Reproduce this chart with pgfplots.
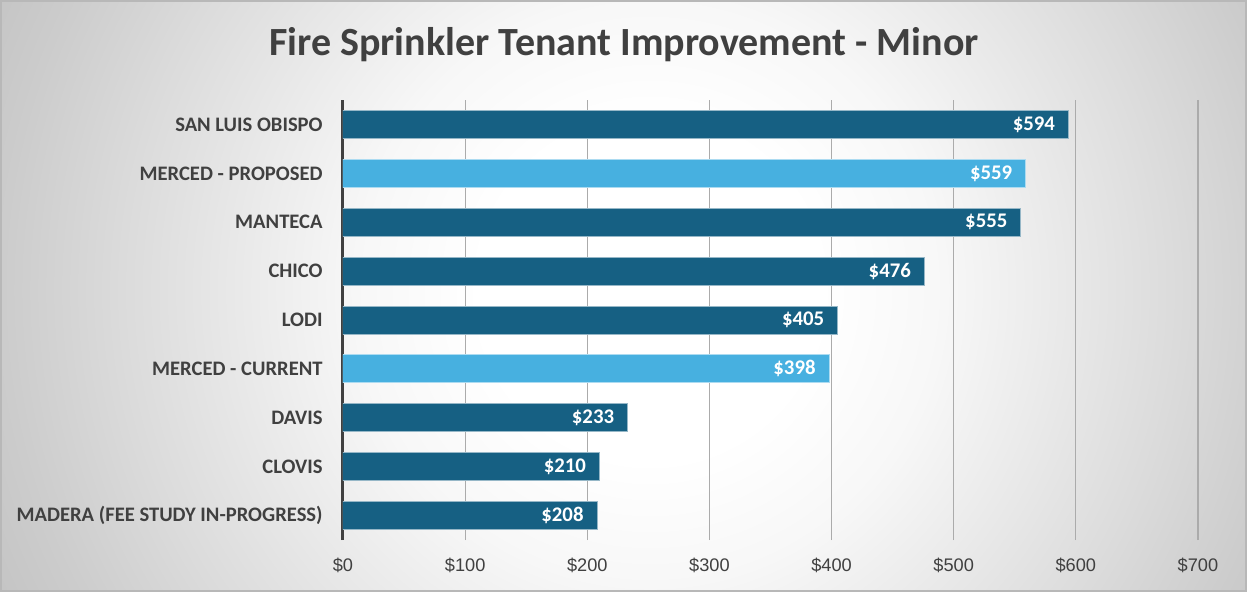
\documentclass[border=0pt]{standalone}
\usepackage{pgfplots}
\pgfplotsset{compat=1.18}
\usepackage{fontspec}
\setmainfont{Carlito}
\newfontfamily\tickfont{Liberation Sans}
\definecolor{darkbar}{HTML}{166083}
\definecolor{lightbar}{HTML}{47B0E0}
\definecolor{txt}{HTML}{404040}
\definecolor{gridc}{HTML}{ABABAB}
\pgfdeclareradialshading{bgshade}{\pgfpoint{0bp}{0bp}}{color(0bp)=(white); color(85bp)=(white); color(146bp)=(black!3); color(263bp)=(black!14); color(324bp)=(black!20); color(360bp)=(black!23)}
\begin{document}
\begin{tikzpicture}
\path[use as bounding box] (-171.5bp,-26bp) rectangle (452bp,270bp);
\begin{scope}
\clip (-171.5bp,-26bp) rectangle (452bp,270bp);
\node[inner sep=0pt, outer sep=0pt] at (153.5bp,125bp) {\pgfuseshading{bgshade}};
\end{scope}
\draw[black!28, line width=0.8bp] (-171.1bp,-25.6bp) rectangle (451.6bp,269.6bp);
\begin{axis}[
  at={(0,0)}, anchor=south west,
  scale only axis, width=427.5bp, height=220bp,
  xbar, bar width=14bp, bar shift=0pt,
  xmin=0, xmax=700, ymin=-0.5, ymax=8.5,
  xtick={0,100,...,700},
  ytick={0,...,8},
  yticklabels={MADERA (FEE STUDY IN-PROGRESS), CLOVIS, DAVIS, MERCED - CURRENT, LODI, CHICO, MANTECA, MERCED - PROPOSED, SAN LUIS OBISPO},
  xticklabel={\$\pgfmathprintnumber{\tick}},
  /pgf/number format/assume math mode=true,
  xmajorgrids, grid style={gridc, line width=0.6bp},
  axis lines*=left, x axis line style={draw=none}, y axis line style={txt, line width=1.5bp},
  major tick length=0pt,
  yticklabel style={font=\bfseries\fontsize{10.3bp}{12bp}\selectfont, text=txt, inner sep=0pt, xshift=-10bp},
  xticklabel style={font=\tickfont\fontsize{9.1bp}{11bp}\selectfont, text=txt, inner sep=0pt, yshift=-9bp},
  point meta=x,
  nodes near coords={\$\pgfmathprintnumber{\pgfplotspointmeta}},
  nodes near coords style={anchor=east, xshift=-6.5bp, white, font=\bfseries\fontsize{10.4bp}{12bp}\selectfont, inner sep=0pt},
]
\addplot[fill=darkbar, draw=darkbar!45!white, line width=0.5bp] coordinates {(208,0) (210,1) (233,2) (405,4) (476,5) (555,6) (594,8)};
\addplot[fill=lightbar, draw=lightbar!45!white, line width=0.5bp] coordinates {(398,3) (559,7)};
\end{axis}
\node[font=\bfseries\fontsize{20bp}{24bp}\selectfont, text=txt] at (140.5bp,247.5bp) {Fire Sprinkler Tenant Improvement - Minor};
\end{tikzpicture}
\end{document}
